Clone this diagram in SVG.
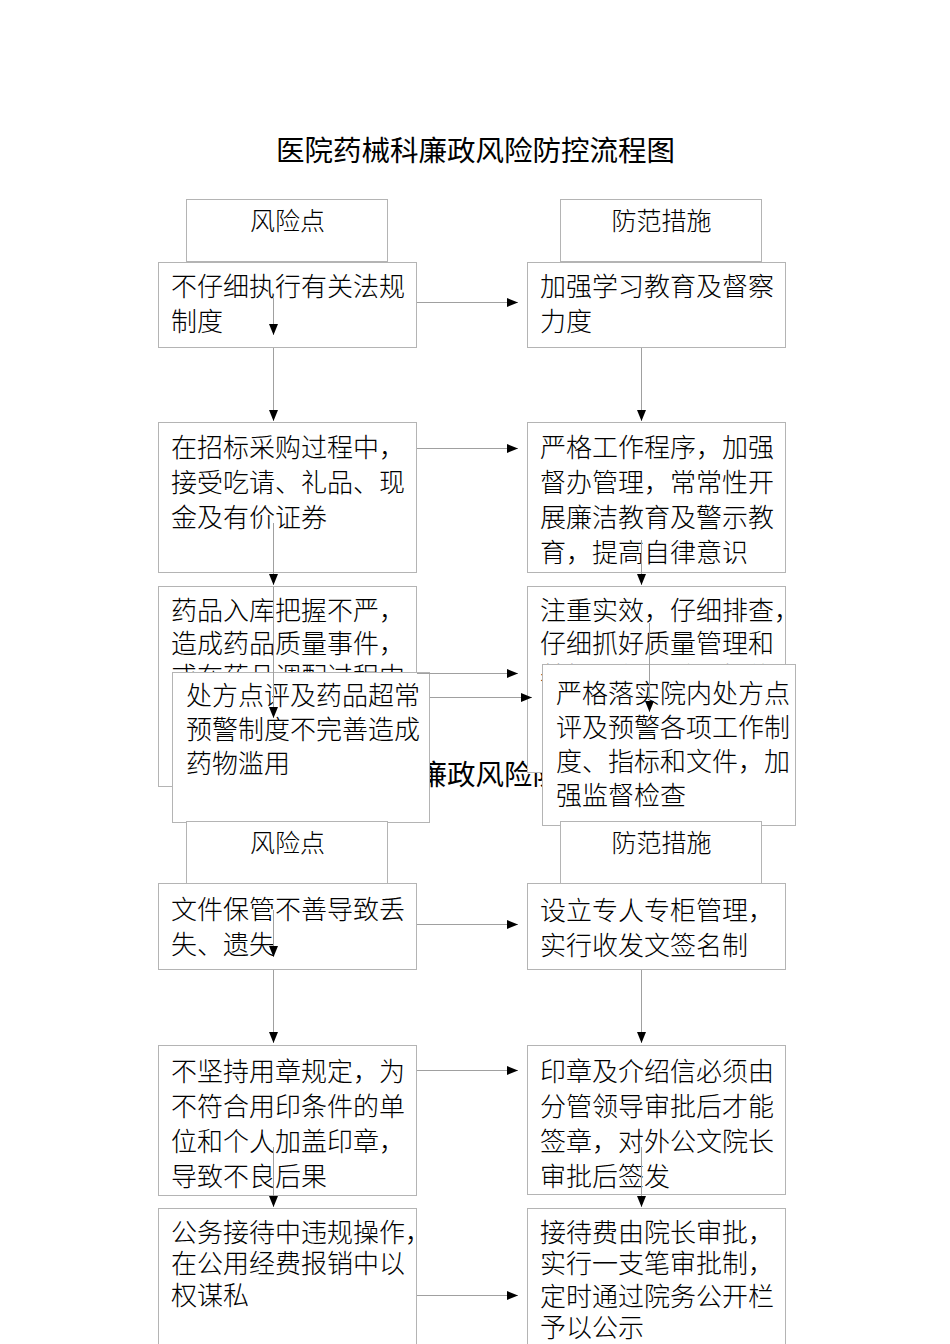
<svg xmlns="http://www.w3.org/2000/svg" width="950" height="1344" viewBox="0 0 950 1344">
<style>
.box{fill:#fff;stroke:#b4b4b4;stroke-width:1}
.t{font-family:"Noto Sans CJK SC","Noto Sans",sans-serif;font-size:26px;font-weight:300;fill:#000}
.h{font-family:"Noto Sans CJK SC","Noto Sans",sans-serif;font-size:25px;font-weight:300;fill:#000;text-anchor:middle}
.title{font-family:"Noto Sans CJK SC","Noto Sans",sans-serif;font-size:28.5px;font-weight:400;fill:#000;text-anchor:middle}
.c{stroke:#a0a0a0;stroke-width:1;fill:none;marker-end:url(#ah)}
</style>
<defs>
<marker id="ah" markerUnits="userSpaceOnUse" markerWidth="12" markerHeight="10" refX="11" refY="4.5" orient="auto">
<path d="M0,0 L11,4.5 L0,9 z" fill="#000"/>
</marker>
</defs>
<rect width="950" height="1344" fill="#fff"/>
<g id="title1"><text class="title" x="475.5" y="161">医院药械科廉政风险防控流程图</text></g>
<g id="hdr1-left"><rect class="box" x="186.5" y="199.5" width="201" height="62"/><text class="h" x="287.5" y="230">风险点</text></g>
<g id="hdr1-right"><rect class="box" x="560.5" y="199.5" width="201" height="62"/><text class="h" x="661.5" y="230">防范措施</text></g>
<g id="r1"><rect class="box" x="158.5" y="262.5" width="258" height="85"/><text class="t" x="171" y="296">不仔细执行有关法规</text><text class="t" x="171" y="331">制度</text></g>
<g id="m1"><rect class="box" x="527.5" y="262.5" width="258" height="85"/><text class="t" x="540" y="296">加强学习教育及督察</text><text class="t" x="540" y="331">力度</text></g>
<g id="r2"><rect class="box" x="158.5" y="422.5" width="258" height="150"/><text class="t" x="171" y="457">在招标采购过程中，</text><text class="t" x="171" y="492">接受吃请、礼品、现</text><text class="t" x="171" y="527">金及有价证券</text></g>
<g id="m2"><rect class="box" x="527.5" y="422.5" width="258" height="150"/><text class="t" x="540" y="457">严格工作程序，加强</text><text class="t" x="540" y="492">督办管理，常常性开</text><text class="t" x="540" y="527">展廉洁教育及警示教</text><text class="t" x="540" y="562">育，提高自律意识</text></g>
<g id="title2"><text class="title" x="475.5" y="785">医院药械科廉政风险防控流程图</text></g>
<g id="r3"><rect class="box" x="158.5" y="586.5" width="258" height="200"/><text class="t" x="171" y="620">药品入库把握不严，</text><text class="t" x="171" y="653">造成药品质量事件，</text><text class="t" x="171" y="686">或在药品调配过程中</text></g>
<g id="m3"><rect class="box" x="527.5" y="586.5" width="258" height="186"/><text class="t" x="540" y="620">注重实效，仔细排查，</text><text class="t" x="540" y="653">仔细抓好质量管理和</text><text class="t" x="540" y="686">养护工作，做到措施</text></g>
<g id="r3b"><rect class="box" x="172.5" y="672.5" width="257" height="150"/><text class="t" x="186" y="705">处方点评及药品超常</text><text class="t" x="186" y="739">预警制度不完善造成</text><text class="t" x="186" y="773">药物滥用</text></g>
<g id="m3b"><rect class="box" x="542.5" y="664.5" width="253" height="161"/><text class="t" x="556" y="703">严格落实院内处方点</text><text class="t" x="556" y="737">评及预警各项工作制</text><text class="t" x="556" y="771">度、指标和文件，加</text><text class="t" x="556" y="805">强监督检查</text></g>
<g id="hdr2-left"><rect class="box" x="186.5" y="821.5" width="201" height="62"/><text class="h" x="287.5" y="852">风险点</text></g>
<g id="hdr2-right"><rect class="box" x="560.5" y="821.5" width="201" height="62"/><text class="h" x="661.5" y="852">防范措施</text></g>
<g id="r4"><rect class="box" x="158.5" y="883.5" width="258" height="86"/><text class="t" x="171" y="919">文件保管不善导致丢</text><text class="t" x="171" y="954">失、遗失</text></g>
<g id="m4"><rect class="box" x="527.5" y="883.5" width="258" height="86"/><text class="t" x="540" y="920">设立专人专柜管理，</text><text class="t" x="540" y="955">实行收发文签名制</text></g>
<g id="r5"><rect class="box" x="158.5" y="1045.5" width="258" height="150"/><text class="t" x="171" y="1081">不坚持用章规定，为</text><text class="t" x="171" y="1116">不符合用印条件的单</text><text class="t" x="171" y="1151">位和个人加盖印章，</text><text class="t" x="171" y="1186">导致不良后果</text></g>
<g id="m5"><rect class="box" x="527.5" y="1045.5" width="258" height="149"/><text class="t" x="540" y="1081">印章及介绍信必须由</text><text class="t" x="540" y="1116">分管领导审批后才能</text><text class="t" x="540" y="1151">签章，对外公文院长</text><text class="t" x="540" y="1186">审批后签发</text></g>
<g id="r6"><rect class="box" x="158.5" y="1208.5" width="258" height="150"/><text class="t" x="171" y="1242">公务接待中违规操作，</text><text class="t" x="171" y="1273">在公用经费报销中以</text><text class="t" x="171" y="1305">权谋私</text></g>
<g id="m6"><rect class="box" x="527.5" y="1208.5" width="258" height="150"/><text class="t" x="540" y="1242">接待费由院长审批，</text><text class="t" x="540" y="1273">实行一支笔审批制，</text><text class="t" x="540" y="1306">定时通过院务公开栏</text><text class="t" x="540" y="1337">予以公示</text></g>
<g id="connectors">
<path class="c" d="M417,302.5 H518"/>
<path class="c" d="M417,448.5 H518"/>
<path class="c" d="M417,673.5 H518"/>
<path class="c" d="M430,697.5 H532"/>
<path class="c" d="M417,924.5 H518"/>
<path class="c" d="M417,1070.5 H518"/>
<path class="c" d="M417,1295.5 H518"/>
<path class="c" d="M273.5,298 V335"/>
<path class="c" d="M273.5,348 V421"/>
<path class="c" d="M273.5,523 V585"/>
<path class="c" d="M273.5,587 V718"/>
<path class="c" d="M273.5,910 V957"/>
<path class="c" d="M273.5,970 V1043"/>
<path class="c" d="M273.5,1147 V1207"/>
<path class="c" d="M641.5,348 V421"/>
<path class="c" d="M641.5,540 V585"/>
<path class="c" d="M649.5,623 V712"/>
<path class="c" d="M641.5,970 V1043"/>
<path class="c" d="M641.5,1147 V1207"/>
</g>
</svg>
